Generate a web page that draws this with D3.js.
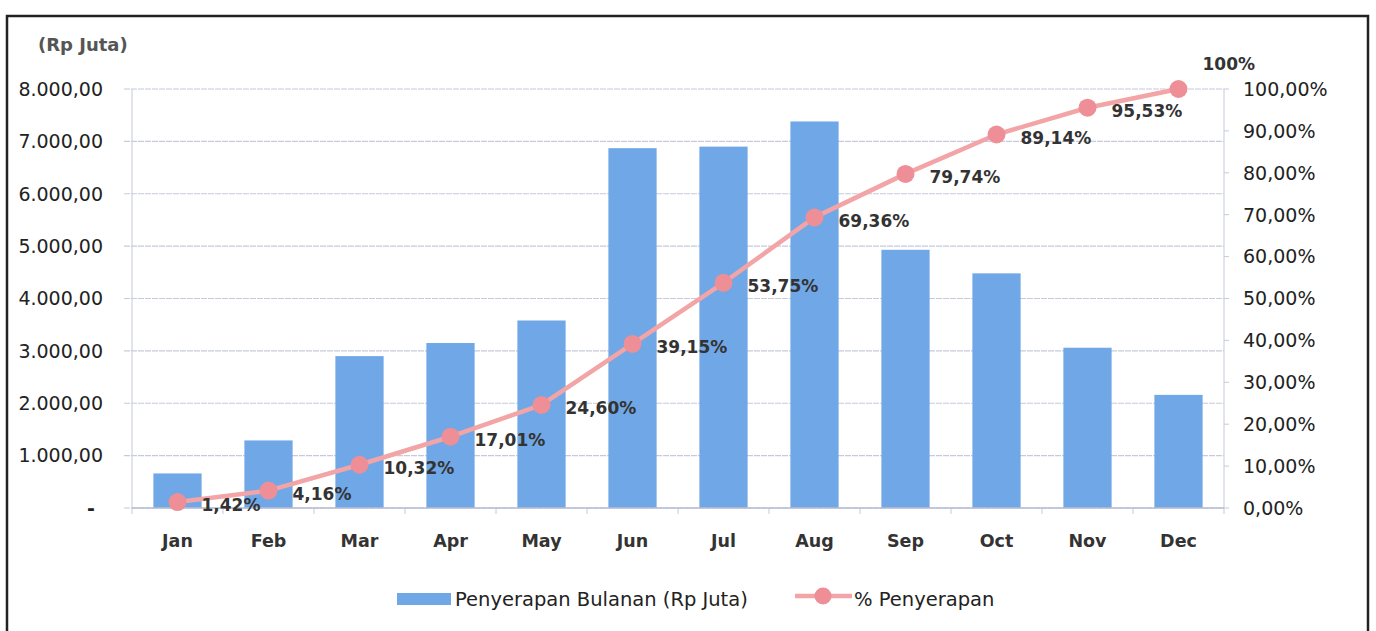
<!DOCTYPE html>
<html>
<head>
<meta charset="utf-8">
<script src="https://cdn.jsdelivr.net/npm/d3@7"></script>
<style>
  body { margin: 0; background: #fff; }
  svg { display: block; font-family: "DejaVu Sans", sans-serif; }
  .tick-label { font-size: 19px; fill: #222; }
  .month-label { font-size: 17.5px; font-weight: bold; fill: #333; }
  .data-label { font-size: 17px; font-weight: bold; fill: #333; }
  .legend-label { font-size: 19.5px; fill: #222; }
</style>
</head>
<body>
<script>
const months = ['Jan', 'Feb', 'Mar', 'Apr', 'May', 'Jun', 'Jul', 'Aug', 'Sep', 'Oct', 'Nov', 'Dec'];
// Penyerapan Bulanan (Rp Juta)
const monthlyAbsorption = [660, 1290, 2900, 3150, 3580, 6870, 6900, 7380, 4930, 4480, 3060, 2160];
// % Penyerapan (cumulative)
const cumulativePct = [1.42, 4.16, 10.32, 17.01, 24.60, 39.15, 53.75, 69.36, 79.74, 89.14, 95.53, 100];
const leftTicks = [0, 1000, 2000, 3000, 4000, 5000, 6000, 7000, 8000];
const rightTicks = [0, 10, 20, 30, 40, 50, 60, 70, 80, 90, 100];

const width = 1376;
const height = 631;
const plot = { left: 132, right: 1224, top: 89, bottom: 508 };

const barColor = '#70a7e6';
const lineColor = '#f3a4a6';
const markerColor = '#ee8e97';
const gridColor = '#c6cadc';

const idLocale = d3.formatLocale({ decimal: ',', thousands: '.', grouping: [3], currency: ['', ''] });
const fmtLeft = idLocale.format(',.2f');
const fmtPct = idLocale.format('.2f');

const svg = d3.select('body').append('svg')
  .attr('width', width)
  .attr('height', height);

svg.append('rect')
  .attr('width', width)
  .attr('height', height)
  .attr('fill', '#fff');

// outer frame of the chart
svg.append('rect')
  .attr('x', 7)
  .attr('y', 16)
  .attr('width', 1361)
  .attr('height', 660)
  .attr('fill', 'none')
  .attr('stroke', '#222')
  .attr('stroke-width', 2.5);

// Set the ranges
const x = d3.scaleBand()
  .domain(months)
  .range([plot.left, plot.right])
  .paddingInner(0.47)
  .paddingOuter(0.235);
const y = d3.scaleLinear().domain([0, 8000]).range([plot.bottom, plot.top]);
const yPct = d3.scaleLinear().domain([0, 100]).range([plot.bottom, plot.top]);

// Gridlines
svg.append('g')
  .selectAll('line')
  .data(leftTicks)
  .enter().append('line')
  .attr('x1', plot.left - 8)
  .attr('x2', plot.right)
  .attr('y1', d => y(d))
  .attr('y2', d => y(d))
  .attr('stroke', gridColor)
  .attr('stroke-width', 1.2)
  .attr('stroke-dasharray', '6,1');

// axis lines
svg.append('line')
  .attr('x1', plot.left).attr('x2', plot.left)
  .attr('y1', plot.top).attr('y2', plot.bottom + 6)
  .attr('stroke', gridColor);
svg.append('line')
  .attr('x1', plot.right).attr('x2', plot.right)
  .attr('y1', plot.top).attr('y2', plot.bottom + 6)
  .attr('stroke', gridColor);
svg.append('g')
  .selectAll('line')
  .data(rightTicks)
  .enter().append('line')
  .attr('x1', plot.right)
  .attr('x2', plot.right + 5)
  .attr('y1', d => yPct(d))
  .attr('y2', d => yPct(d))
  .attr('stroke', gridColor);

// category ticks under the baseline
svg.append('g')
  .selectAll('line')
  .data(months.slice(1))
  .enter().append('line')
  .attr('x1', d => x(d) - (x.step() * x.paddingInner()) / 2)
  .attr('x2', d => x(d) - (x.step() * x.paddingInner()) / 2)
  .attr('y1', plot.bottom)
  .attr('y2', plot.bottom + 6)
  .attr('stroke', gridColor);

// Bars
svg.append('g')
  .selectAll('rect')
  .data(monthlyAbsorption)
  .enter().append('rect')
  .attr('x', (d, i) => x(months[i]))
  .attr('y', d => y(d))
  .attr('width', x.bandwidth())
  .attr('height', d => plot.bottom - y(d))
  .attr('fill', barColor);

svg.append('line')
  .attr('x1', plot.left).attr('x2', plot.right)
  .attr('y1', plot.bottom).attr('y2', plot.bottom)
  .attr('stroke', '#b8bdd2')
  .attr('stroke-width', 1.5);

// Left axis labels
svg.append('g')
  .selectAll('text')
  .data(leftTicks)
  .enter().append('text')
  .attr('class', 'tick-label')
  .attr('x', d => (d === 0 ? 95 : 103))
  .attr('y', d => y(d))
  .attr('dy', '0.36em')
  .style('text-anchor', 'end')
  .style('font-weight', d => (d === 0 ? 'bold' : 'normal'))
  .text(d => (d === 0 ? '-' : fmtLeft(d)));

// Right axis labels
svg.append('g')
  .selectAll('text')
  .data(rightTicks)
  .enter().append('text')
  .attr('class', 'tick-label')
  .attr('x', 1243)
  .attr('y', d => yPct(d))
  .attr('dy', '0.36em')
  .text(d => `${fmtPct(d)}%`);

svg.append('text')
  .attr('x', 38)
  .attr('y', 45)
  .attr('dy', '0.36em')
  .style('font-size', '18px')
  .style('font-weight', 'bold')
  .style('fill', '#555')
  .text('(Rp Juta)');

// Month labels
svg.append('g')
  .selectAll('text')
  .data(months)
  .enter().append('text')
  .attr('class', 'month-label')
  .attr('x', d => x(d) + x.bandwidth() / 2)
  .attr('y', 541)
  .attr('dy', '0.36em')
  .style('text-anchor', 'middle')
  .text(d => d);

// Cumulative line
const cx = i => x(months[i]) + x.bandwidth() / 2;
const line = d3.line()
  .x((d, i) => cx(i))
  .y(d => yPct(d));

svg.append('path')
  .datum(cumulativePct)
  .attr('d', line)
  .attr('fill', 'none')
  .attr('stroke', lineColor)
  .attr('stroke-width', 4.5)
  .attr('stroke-linejoin', 'round');

svg.append('g')
  .selectAll('circle')
  .data(cumulativePct)
  .enter().append('circle')
  .attr('cx', (d, i) => cx(i))
  .attr('cy', d => yPct(d))
  .attr('r', 9)
  .attr('fill', markerColor);

svg.append('g')
  .selectAll('text')
  .data(cumulativePct)
  .enter().append('text')
  .attr('class', 'data-label')
  .attr('x', (d, i) => cx(i) + 24)
  .attr('y', d => (d === 100 ? yPct(d) - 25 : yPct(d) + 3))
  .attr('dy', '0.36em')
  .text(d => (d === 100 ? '100%' : `${fmtPct(d)}%`));

// Legend
svg.append('rect')
  .attr('x', 397)
  .attr('y', 593)
  .attr('width', 54)
  .attr('height', 12)
  .attr('fill', barColor);
svg.append('text')
  .attr('class', 'legend-label')
  .attr('x', 455)
  .attr('y', 599)
  .attr('dy', '0.36em')
  .text('Penyerapan Bulanan (Rp Juta)');

svg.append('line')
  .attr('x1', 795).attr('x2', 852)
  .attr('y1', 596).attr('y2', 596)
  .attr('stroke', lineColor)
  .attr('stroke-width', 4.5);
svg.append('circle')
  .attr('cx', 823)
  .attr('cy', 596)
  .attr('r', 8.5)
  .attr('fill', markerColor);
svg.append('text')
  .attr('class', 'legend-label')
  .attr('x', 854)
  .attr('y', 599)
  .attr('dy', '0.36em')
  .text('% Penyerapan');
</script>
</body>
</html>
